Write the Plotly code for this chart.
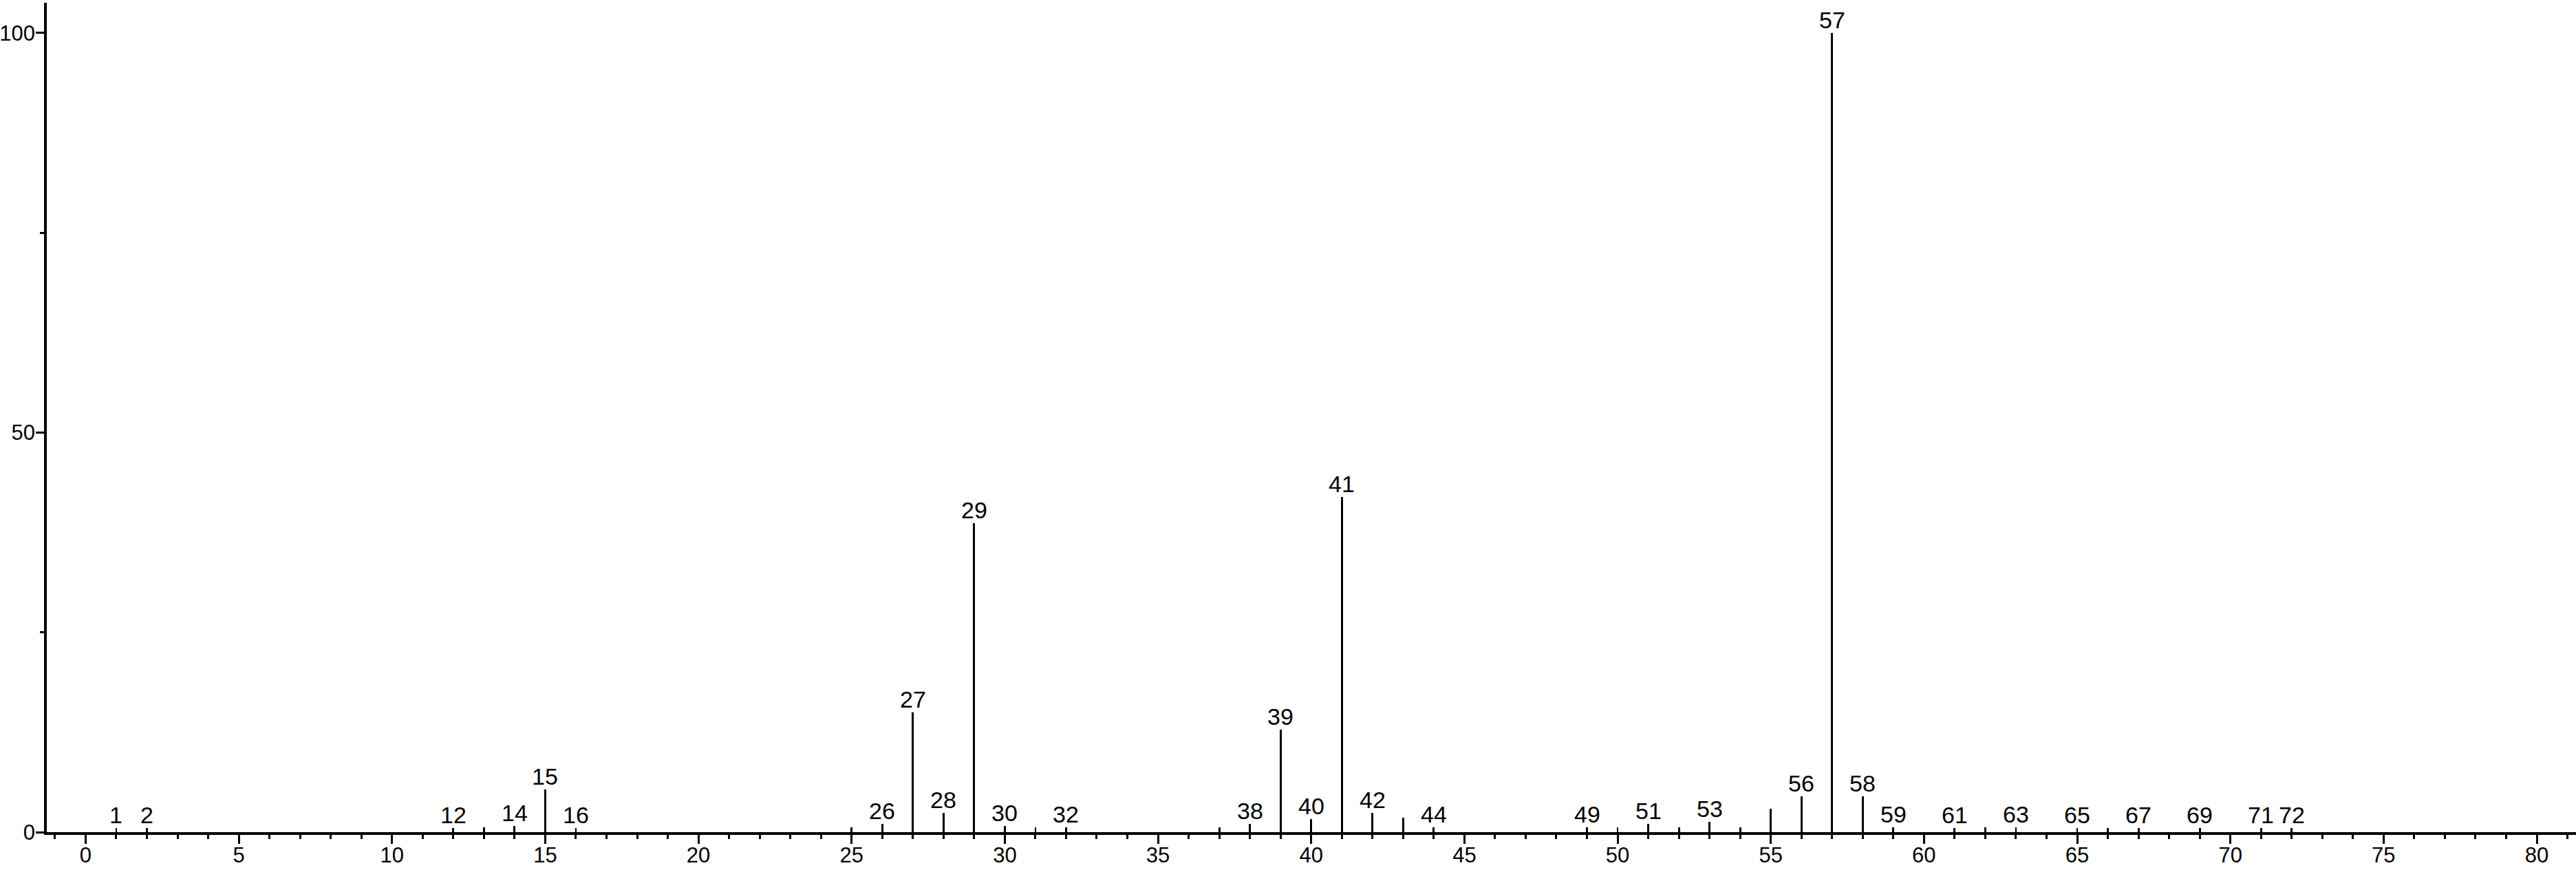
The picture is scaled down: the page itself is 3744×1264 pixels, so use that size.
import plotly.graph_objects as go

# m/z values and relative intensities (%)
mz = [1, 2, 12, 13, 14, 15, 16, 25, 26, 27, 28, 29, 30, 31, 32, 37, 38, 39, 40,
      41, 42, 43, 44, 49, 50, 51, 52, 53, 54, 55, 56, 57, 58, 59, 61, 62, 63,
      65, 66, 67, 69, 71, 72]
intensity = [0.5, 0.5, 0.5, 0.6, 0.8, 5.3, 0.5, 0.6, 1.0, 15.0, 2.4, 38.7, 0.8,
             0.6, 0.6, 0.6, 1.0, 12.8, 1.6, 41.9, 2.4, 1.8, 0.6, 0.6, 0.6, 1.0,
             0.6, 1.3, 0.6, 2.9, 4.5, 100.0, 4.5, 0.6, 0.5, 0.6, 0.6, 0.5, 0.5,
             0.5, 0.5, 0.5, 0.5]
# peaks that carry a text label
labeled = [1, 2, 12, 14, 15, 16, 26, 27, 28, 29, 30, 32, 38, 39, 40, 41, 42, 44,
           49, 51, 53, 56, 57, 58, 59, 61, 63, 65, 67, 69, 71, 72]

x_ticks = list(range(0, 81, 5))
y_ticks = [0, 50, 100]

FONT = "Liberation Sans, Arial, Helvetica, sans-serif"

fig = go.Figure()
fig.add_trace(go.Bar(
    x=mz, y=intensity, width=0.064,
    marker=dict(color="black", line=dict(width=0)),
    hoverinfo="x+y", showlegend=False,
))

lab_set = set(labeled)
for m, v in zip(mz, intensity):
    if m in lab_set:
        fig.add_annotation(
            x=m, y=v, text=str(m), showarrow=False,
            xanchor="center", yanchor="bottom", yshift=-2,
            font=dict(family=FONT, size=34, color="black"),
        )

fig.update_layout(
    width=3744, height=1264,
    margin=dict(l=68, r=0, t=4, b=55, autoexpand=False),
    paper_bgcolor="white", plot_bgcolor="white",
    font=dict(family=FONT, size=32, color="black"),
    bargap=0,
    showlegend=False,
)
fig.update_xaxes(
    range=[-1.267, 81.28], automargin=False,
    tickmode="array", tickvals=x_ticks, ticktext=[str(t) for t in x_ticks],
    ticks="outside", ticklen=13, tickwidth=3, tickcolor="black",
    ticklabelstandoff=-10,
    minor=dict(dtick=1, tick0=0, ticks="outside", ticklen=6, tickwidth=2.5,
               tickcolor="black", showgrid=False),
    showline=True, linecolor="black", linewidth=3.5,
    showgrid=False, zeroline=False,
    tickfont=dict(family=FONT, size=31, color="black"),
)
fig.update_yaxes(
    range=[0, 103.77], automargin=False,
    tickmode="array", tickvals=y_ticks, ticktext=[str(t) for t in y_ticks],
    ticks="outside", ticklen=12, tickwidth=3, tickcolor="black",
    ticklabelstandoff=-5,
    minor=dict(dtick=25, tick0=0, ticks="outside", ticklen=6, tickwidth=2.5,
               tickcolor="black", showgrid=False),
    showline=True, linecolor="black", linewidth=3.5,
    showgrid=False, zeroline=False,
    tickfont=dict(family=FONT, size=31, color="black"),
)

fig.write_html(
    "out.html",
    config={"displayModeBar": False},
    post_script="document.body.style.margin='0';document.body.style.overflow='hidden';",
)
